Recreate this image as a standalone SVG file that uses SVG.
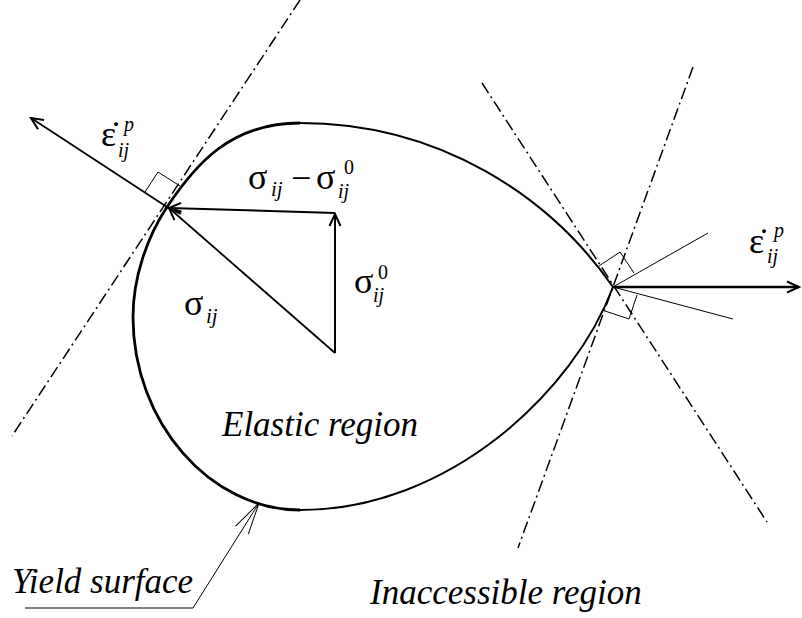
<svg xmlns="http://www.w3.org/2000/svg" width="802" height="618" viewBox="0 0 802 618">
<defs>
<style>
.dd{fill:none;stroke:#000;stroke-width:1.5;stroke-dasharray:12 4 2 4}
.thin{fill:none;stroke:#000;stroke-width:1}
.ar{fill:none;stroke:#000;stroke-width:1.8;marker-end:url(#ah)}
text{fill:#000}
.it{font-style:italic}
</style>
<marker id="ah" viewBox="-15 -8 17 16" refX="0" refY="0" markerWidth="17" markerHeight="16" markerUnits="userSpaceOnUse" orient="auto">
<path d="M-12,-5.5 L0,0 L-12,5.5" fill="none" stroke="#000" stroke-width="2"/>
</marker>
<marker id="ahThin" viewBox="-34 -10 36 20" refX="0" refY="0" markerWidth="36" markerHeight="20" markerUnits="userSpaceOnUse" orient="auto">
<path d="M-32,-7.5 L0,0 L-32,7.5" fill="none" stroke="#000" stroke-width="1"/>
</marker>
</defs>
<rect width="802" height="618" fill="#fff"/>

<g id="tangent-lines">
<line class="dd" x1="300" y1="0" x2="12" y2="436"/>
<line class="dd" x1="482" y1="83" x2="767" y2="522"/>
<line class="dd" x1="693" y1="67" x2="518" y2="548"/>
</g>

<g id="yield-surface">
<path d="M300,123 C440,123 550.3,196.8 613,287 C574.5,390.4 450,510 300,510" fill="none" stroke="#000" stroke-width="2"/>
<path d="M300,510 C210,510 133,422 133,317 C133,277 147.6,236.1 167,207 C195,165 230,123 300,123" fill="none" stroke="#000" stroke-width="2.8"/>
</g>

<g id="right-angles">
<polyline class="thin" points="145,192 158,172 180,186"/>
<polyline class="thin" points="599,266 620,252 634,273"/>
<polyline class="thin" points="605,311 629,319 637,295"/>
<line class="thin" x1="613" y1="287" x2="708" y2="233"/>
<line class="thin" x1="613" y1="287" x2="733" y2="319"/>
</g>

<g id="connectors">
<line class="ar" x1="167" y1="207" x2="31" y2="118"/>
<line class="ar" x1="335" y1="353" x2="169" y2="208"/>
<line class="ar" x1="335" y1="213" x2="169" y2="208" style="stroke-width:2"/>
<line class="ar" x1="335" y1="353" x2="335" y2="214" style="stroke-width:2"/>
<line class="ar" x1="613" y1="287" x2="799" y2="287" style="stroke-width:2.5"/>
<polyline fill="none" stroke="#000" stroke-width="1" points="25,608 193,608 259,503" marker-end="url(#ahThin)"/>
</g>

<g font-family="'Liberation Serif', 'Times New Roman', serif">
<g id="label-eps-left">
<text x="101" y="146" font-size="36">ε̇</text>
<text class="it" x="124" y="131" font-size="20">p</text>
<text class="it" x="118" y="157" font-size="20">ij</text>
</g>

<g id="label-eps-right">
<text x="749" y="253" font-size="36">ε̇</text>
<text class="it" x="774" y="237" font-size="20">p</text>
<text class="it" x="767" y="263" font-size="20">ij</text>
</g>

<g id="label-sigma-diff">
<text x="248" y="189" font-size="36">σ</text>
<text class="it" x="271" y="196" font-size="21">ij</text>
<text x="291" y="190" font-size="36">−</text>
<text x="316" y="189" font-size="36">σ</text>
<text x="344" y="174" font-size="20">0</text>
<text class="it" x="338" y="198" font-size="20">ij</text>
</g>

<g id="label-sigma0">
<text x="354" y="293" font-size="36">σ</text>
<text x="378" y="279" font-size="20">0</text>
<text class="it" x="373" y="302" font-size="20">ij</text>
</g>

<g id="label-sigma">
<text x="184" y="315" font-size="36">σ</text>
<text class="it" x="206" y="323" font-size="21">ij</text>
</g>

<g id="label-regions">
<text class="it" x="222" y="436" font-size="35">Elastic region</text>
<text class="it" x="12" y="593" font-size="35">Yield surface</text>
<text class="it" x="370" y="604" font-size="35">Inaccessible region</text>
</g>
</g>
</svg>
